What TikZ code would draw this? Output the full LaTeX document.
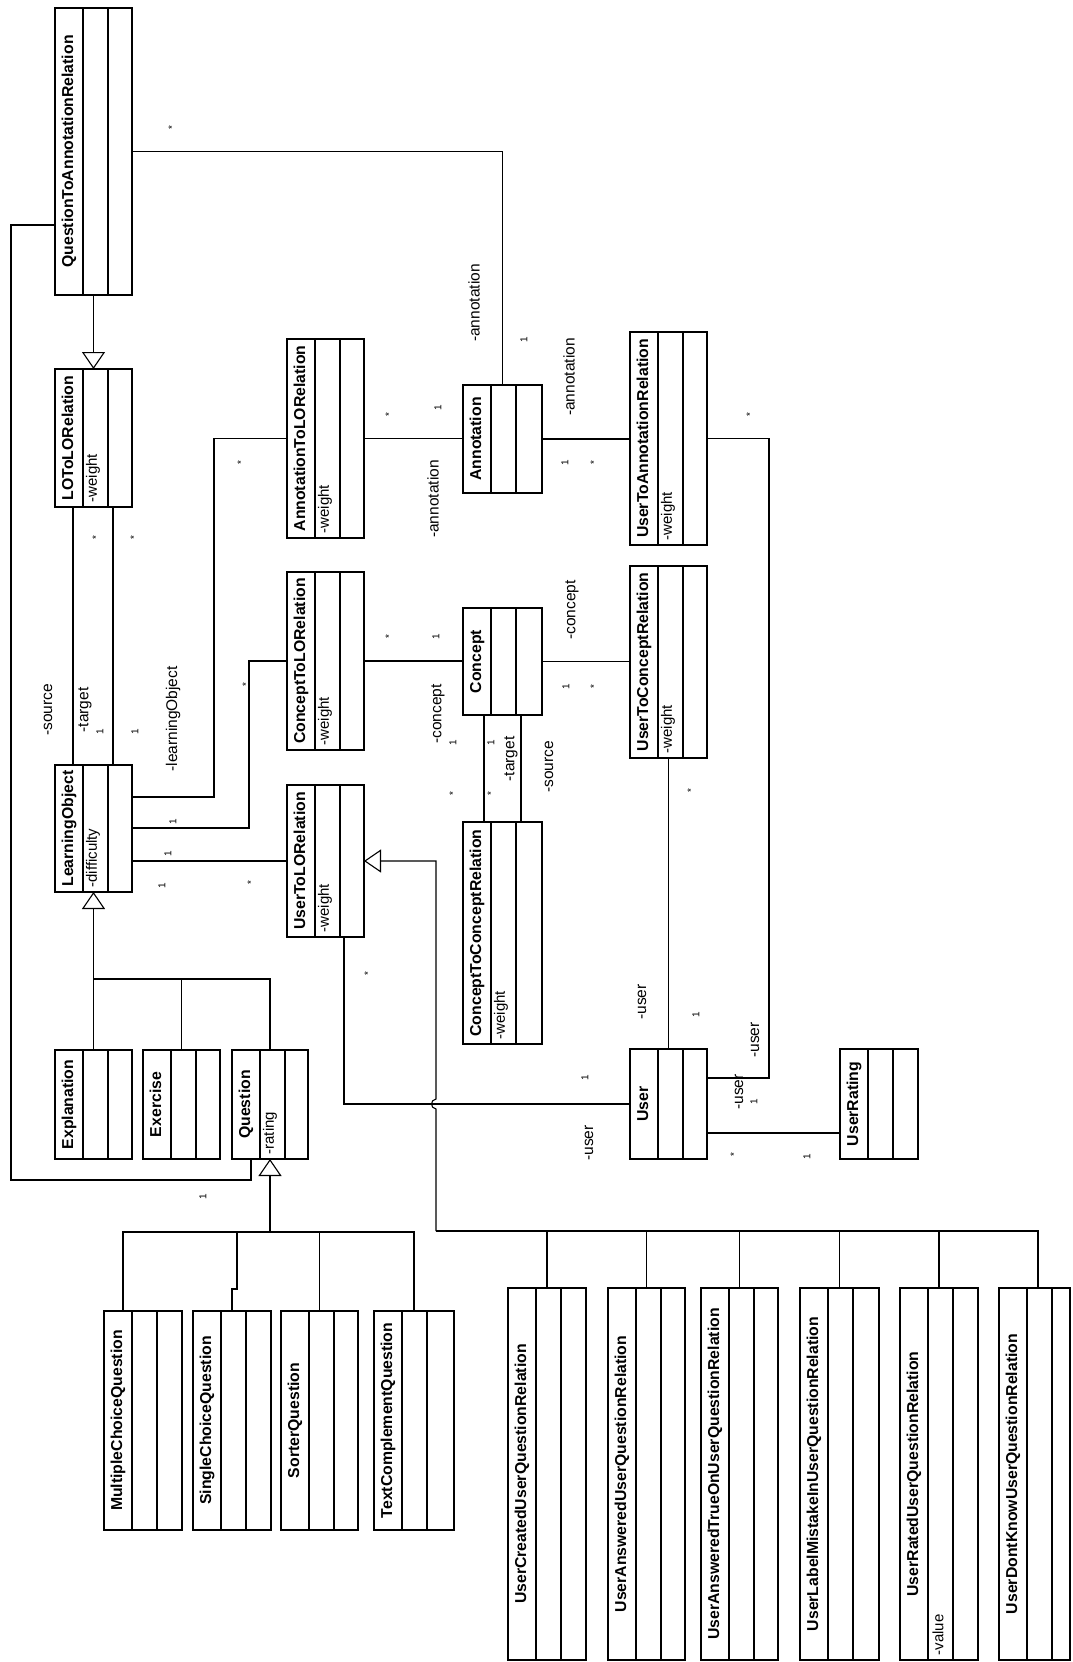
\documentclass[tikz,border=0pt]{standalone}
\usepackage{fontspec}
\setmainfont{Liberation Sans}
\usetikzlibrary{arrows.meta}
\tikzset{
  clsbox/.style={draw, line width=1.1pt, inner sep=0pt, outer sep=0pt, fill=white},
  ctitle/.style={font=\fontsize{15.8}{18}\selectfont\bfseries, text height=11pt, text depth=3pt, inner sep=0pt, rotate=90},
  cattr/.style={font=\fontsize{15}{18}\selectfont, inner sep=1pt, rotate=90, anchor=west},
  role/.style={font=\fontsize{15.5}{18}\selectfont, inner sep=0pt, rotate=90},
  mult/.style={font=\fontsize{10}{12}\selectfont, inner sep=0pt, rotate=90},
  gen/.style={-{Triangle[open, length=17pt, width=23pt]}},
}
\newcommand\umlclass[7]{%
  \node[clsbox, anchor=north west, minimum width={(#4-#2)*1pt}, minimum height={(#5-#3)*1pt}] (#1) at (#2,#3) {};
  \draw ([xshift=28pt]#1.north west) -- ([xshift=28pt]#1.south west);
  \draw ([xshift=53pt]#1.north west) -- ([xshift=53pt]#1.south west);
  \node[ctitle] (#1-name) at ({#2+14},{(#3+#5)/2}) {#6};
  \node[cattr] (#1-attr) at ({#2+38},{#5-3}) {#7};
}
\begin{document}
\begin{tikzpicture}[x=1pt, y=-1pt, line width=1.1pt]
\useasboundingbox (0,0) rectangle (1072,1662);
% classes
\umlclass{QtAR}{55}{8}{132}{295}{QuestionToAnnotationRelation}{}
\umlclass{LOLO}{55}{369}{132}{507}{LOToLORelation}{-weight}
\umlclass{LO}{55}{765}{132}{892}{LearningObject}{-difficulty}
\umlclass{AnnoLO}{287}{339}{364}{538}{AnnotationToLORelation}{-weight}
\umlclass{ConLO}{287}{572}{364}{750}{ConceptToLORelation}{-weight}
\umlclass{UserLO}{287}{785}{364}{937}{UserToLORelation}{-weight}
\umlclass{Anno}{463}{385}{542}{493}{Annotation}{}
\umlclass{Concept}{463}{608}{542}{715}{Concept}{}
\umlclass{ConCon}{463}{822}{542}{1044}{ConceptToConceptRelation}{-weight}
\umlclass{UserAnno}{630}{332}{707}{545}{UserToAnnotationRelation}{-weight}
\umlclass{UserCon}{630}{566}{707}{758}{UserToConceptRelation}{-weight}
\umlclass{User}{630}{1049}{707}{1159}{User}{}
\umlclass{URating}{840}{1049}{918}{1159}{UserRating}{}
\umlclass{Expl}{55}{1050}{132}{1159}{Explanation}{}
\umlclass{Exer}{143}{1050}{220}{1159}{Exercise}{}
\umlclass{Quest}{232}{1050}{308}{1159}{Question}{-rating}
\umlclass{MCQ}{104}{1311}{182}{1530}{MultipleChoiceQuestion}{}
\umlclass{SCQ}{193}{1311}{271}{1530}{SingleChoiceQuestion}{}
\umlclass{SQ}{281}{1311}{358}{1530}{SorterQuestion}{}
\umlclass{TCQ}{374}{1311}{454}{1530}{TextComplementQuestion}{}
\umlclass{UC}{508}{1288}{586}{1660}{UserCreatedUserQuestionRelation}{}
\umlclass{UA}{608}{1288}{685}{1660}{UserAnsweredUserQuestionRelation}{}
\umlclass{UAT}{701}{1288}{778}{1660}{UserAnsweredTrueOnUserQuestionRelation}{}
\umlclass{UL}{800}{1288}{879}{1660}{UserLabelMistakeInUserQuestionRelation}{}
\umlclass{UR}{900}{1288}{978}{1660}{UserRatedUserQuestionRelation}{-value}
\umlclass{UD}{999}{1288}{1070}{1660}{UserDontKnowUserQuestionRelation}{}
% associations
\draw (QtAR.east) -| (Anno.north);
\draw (QtAR.west |- 0,225) -- (11,225) -- (11,1180) -| (Quest.south -| 251,0);
\draw ([xshift=-20.5pt]LOLO.south) -- ([xshift=-20.5pt]LO.north);
\draw ([xshift=19.5pt]LOLO.south) -- ([xshift=19.5pt]LO.north);
\draw (AnnoLO.west) -| (214,797) -- (LO.east |- 0,797);
\draw (ConLO.west) -| (249,828) -- (LO.east |- 0,828);
\draw (UserLO.west) -- (LO.east |- UserLO.west);
\draw (AnnoLO.east) -- (Anno.west |- AnnoLO.east);
\draw (Anno.east) -- (UserAnno.west |- Anno.east);
\draw (UserAnno.east) -| (769,1078) -- (User.east |- 0,1078);
\draw (ConLO.east) -- (Concept.west |- ConLO.east);
\draw (Concept.east) -- (UserCon.west |- Concept.east);
\draw ([xshift=-18.5pt]Concept.south) -- ([xshift=-18.5pt]ConCon.north);
\draw ([xshift=18.5pt]Concept.south) -- ([xshift=18.5pt]ConCon.north);
\draw (UserCon.south) -- (User.north);
\draw ([xshift=18.5pt]UserLO.south) |- (User.west);
\draw (User.east |- 0,1133) -- (URating.west |- 0,1133);
% generalizations
\draw[gen] (QtAR.south) -- (LOLO.north);
\draw[gen] (Expl.north |- 0,979) -- (LO.south);
\draw (Expl.north) -- (Expl.north |- 0,979) -| (Quest.north);
\draw (Exer.north) -- (Exer.north |- 0,979);
\draw[gen] (Quest.south |- 0,1232) -- (Quest.south);
\draw ([xshift=-20pt]MCQ.north) |- (TCQ.north |- 0,1232) -- (TCQ.north);
\draw (SQ.north) -- (SQ.north |- 0,1232);
\draw (SCQ.north) -- (SCQ.north |- 0,1289) -- (237,1289) -- (237,1232);
\coordinate (hub) at (436,1231);
\draw[gen] (hub) -- (436,1109) .. controls (430,1108) and (430,1100) .. (436,1099) -- (436,861) -- (UserLO.east);
\draw (hub) -| (UD.north -| 1038,0);
\foreach \n in {UC,UA,UAT,UL,UR} \draw (\n.north) -- (\n.north |- hub);
% role labels
\foreach \x/\y/\t [count=\i] in {474/303/-annotation, 569/377/-annotation, 433/499/-annotation,
  48/710/-source, 85/710/-target, 173/719/-learningObject, 572/610/-concept, 438/714/-concept,
  511/759/-target, 549/767/-source, 642/1002/-user, 755/1040/-user, 739/1092/-user, 589/1143/-user}
  \node[role] (role\i) at (\x,\y) {\t};
% multiplicities
\foreach \x/\y [count=\i] in {172/128, 96/538, 134/538, 241/463, 246/685, 251/883, 389/415, 594/463,
  750/415, 389/637, 594/687, 453/794, 491/794, 691/791, 368/974, 734/1155}
  \node[mult] (many\i) at (\x,\y) {*};
\foreach \x/\y [count=\i] in {524/340, 100/732, 135/732, 173/822, 168/854, 162/886, 438/408, 565/463,
  436/637, 566/687, 453/743, 491/743, 696/1015, 585/1078, 754/1102, 807/1157, 203/1197}
  \node[mult] (one\i) at (\x,\y) {1};
\end{tikzpicture}
\end{document}
